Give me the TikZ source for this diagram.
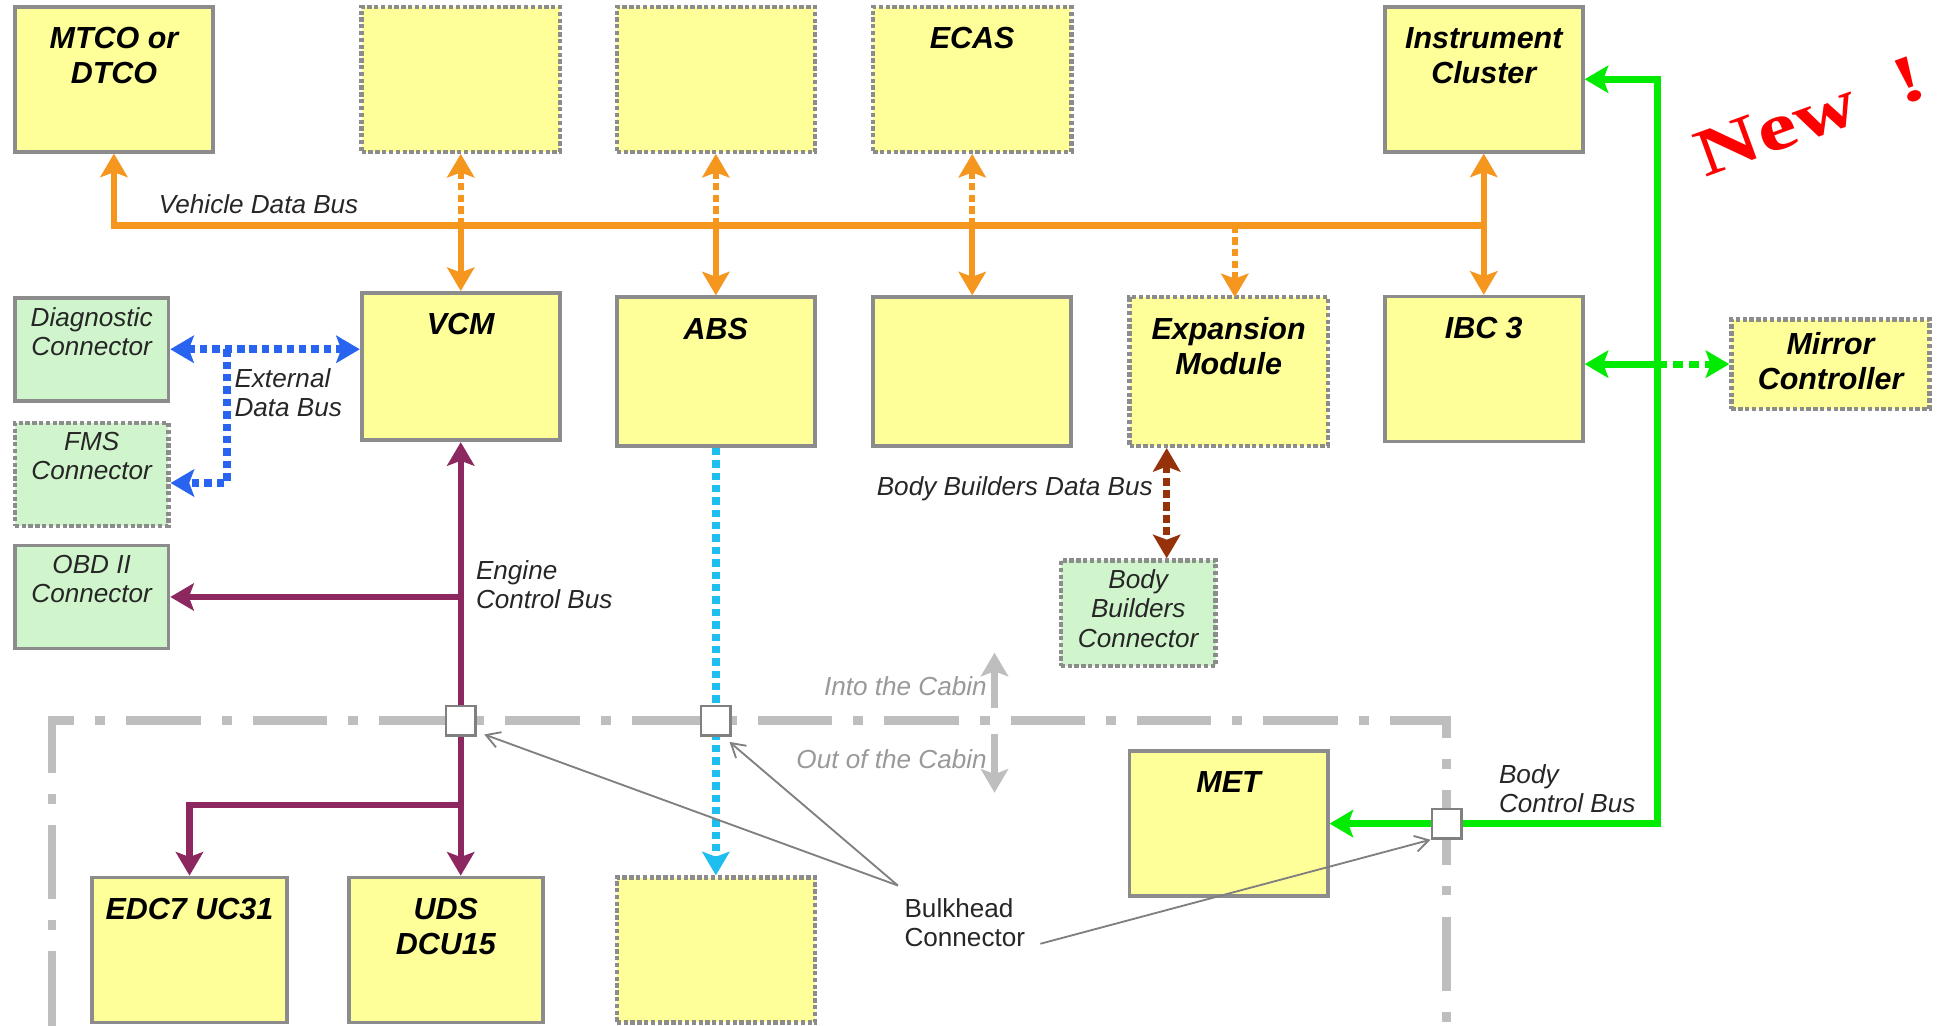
\documentclass[tikz,border=0pt]{standalone}
\usepackage{fontspec}
\setmainfont{Liberation Sans}
\newfontfamily\newsign{Liberation Serif}
\usetikzlibrary{arrows.meta,calc}

\definecolor{ecuyellow}{RGB}{255,255,153}
\definecolor{conngreen}{RGB}{208,245,204}
\definecolor{boxgray}{RGB}{140,140,140}
\definecolor{vdorange}{RGB}{245,150,30}
\definecolor{edblue}{RGB}{40,100,240}
\definecolor{ecpurple}{RGB}{140,40,95}
\definecolor{abscyan}{RGB}{30,190,240}
\definecolor{bbbrown}{RGB}{150,50,10}
\definecolor{bcgreen}{RGB}{0,235,0}
\definecolor{cabingray}{RGB}{190,190,190}

\tikzset{
  ecu/.style={draw=boxgray, line width=0.6mm, fill=ecuyellow,
    minimum width=32mm, minimum height=23.4mm, inner sep=0pt},
  conn/.style={ecu, fill=conngreen, minimum width=24.8mm, minimum height=16.6mm},
  optional/.style={line width=0.7mm, dash pattern=on 0.7mm off 0.4mm},
  ecutext/.style={anchor=north, yshift=-2.4mm, align=center,
    font=\fontsize{14}{16}\selectfont\bfseries\itshape},
  conntext/.style={anchor=north, yshift=-0.6mm, align=center,
    font=\fontsize{12}{13.5}\selectfont\itshape, text=black!85},
  buslabel/.style={inner sep=0pt, align=left,
    font=\fontsize{12}{13.5}\selectfont\itshape, text=black!85},
  vdbus/.style={draw=vdorange, line width=1mm},
  edbus/.style={draw=edblue, line width=1.3mm, dash pattern=on 1.2mm off 0.8mm},
  ecbus/.style={draw=ecpurple, line width=1mm},
  absbus/.style={draw=abscyan, line width=1.2mm, dash pattern=on 1.2mm off 0.8mm},
  bbbus/.style={draw=bbbrown, line width=1.2mm, dash pattern=on 1.3mm off 0.7mm},
  bcbus/.style={draw=bcgreen, line width=1.1mm},
  dashedbus/.style={dash pattern=on 1.2mm off 0.7mm},
  dotbus/.style={dash pattern=on 1.6mm off 1mm},
  bulkhead/.style={draw=gray, fill=white, line width=0.4mm, minimum size=4.8mm, inner sep=0pt},
  callout/.style={draw=gray, line width=0.3mm, -{Straight Barb[length=2.2mm,width=2.6mm]}},
  cabin/.style={draw=cabingray, line width=1.4mm, dash pattern=on 12mm off 3.4mm on 1.6mm off 3.4mm},
  cabinarrow/.style={draw=cabingray, line width=1.1mm}
}

\begin{document}
\begin{tikzpicture}[x=0.2mm, y=-0.2mm, >={Stealth[length=3.8mm,width=4.4mm,inset=0.8mm]}]
\useasboundingbox (0,0) rectangle (1568,828);
% limite cabina
\draw[cabin] (42,828) -- (42,582) -- (1168,582) -- (1168,828);
% centraline in alto
\node[ecu, label={[ecutext]north:{MTCO or\\DTCO}}] (mtco) at (92,64) {};
\node[ecu, optional] (boxa) at (372,64) {};
\node[ecu, optional] (boxb) at (578,64) {};
\node[ecu, optional, label={[ecutext]north:ECAS}] (ecas) at (785,64) {};
\node[ecu, label={[ecutext]north:{Instrument\\Cluster}}] (ic) at (1198,64) {};
% centraline in mezzo
\node[ecu, minimum height=23.8mm, label={[ecutext]north:VCM}] (vcm) at (372,296) {};
\node[ecu, minimum height=24mm, label={[ecutext]north:ABS}] (abs) at (578,300) {};
\node[ecu, minimum height=24mm] (boxc) at (785,300) {};
\node[ecu, optional, minimum height=24mm, label={[ecutext]north:{Expansion\\Module}}] (exp) at (992,300) {};
\node[ecu, label={[ecutext]north:IBC 3}] (ibc) at (1198,298) {};
\node[ecu, optional, minimum height=14.4mm, label={[ecutext, yshift=1.2mm]north:{Mirror\\Controller}}] (mirror) at (1478,294) {};
% connettori
\node[conn, label={[conntext]north:{Diagnostic\\Connector}}] (diag) at (74,282) {};
\node[conn, optional, label={[conntext]north:{FMS\\Connector}}] (fms) at (74,383) {};
\node[conn, label={[conntext]north:{OBD II\\Connector}}] (obd) at (74,482) {};
\node[conn, optional, minimum width=25mm, minimum height=17mm, label={[conntext]north:{Body\\Builders\\Connector}}] (bbc) at (919,495) {};
% centraline in basso
\node[ecu, label={[ecutext]north:MET}] (met) at (992,665) {};
\node[ecu, minimum width=31.6mm, label={[ecutext]north:EDC7 UC31}] (edc) at (153,767) {};
\node[ecu, minimum width=31.4mm, label={[ecutext]north:{UDS\\DCU15}}] (uds) at (360,767) {};
\node[ecu, optional] (boxd) at (578,767) {};
% bus dati veicolo
\coordinate (vdb) at (1198,182);
\draw[vdbus, ->] (vdb) -| (mtco.south);
\draw[vdbus, dashedbus, <-] (boxa.south) -- (boxa.south |- vdb);
\draw[vdbus, ->] (boxa.south |- vdb) -- (vcm.north);
\draw[vdbus, dashedbus, <-] (boxb.south) -- (boxb.south |- vdb);
\draw[vdbus, ->] (boxb.south |- vdb) -- (abs.north);
\draw[vdbus, dashedbus, <-] (ecas.south) -- (ecas.south |- vdb);
\draw[vdbus, ->] (ecas.south |- vdb) -- (boxc.north);
\draw[vdbus, <->] (ic.south) -- (ibc.north);
\coordinate (expin) at (997,240);
\draw[vdbus, dashedbus, ->] (expin |- vdb) -- (expin);
\node[buslabel, anchor=west] (vdblabel) at (128,165) {Vehicle Data Bus};
% bus dati esterno
\coordinate (edsplit) at (183,282);
\coordinate (edcorner) at (183,390);
\draw[edbus, <->] (diag.east) -- (diag.east -| vcm.west);
\draw[edbus, ->] (edsplit) -- (edcorner) -- (edcorner -| fms.east);
\node[buslabel, anchor=north west] (edblabel) at (189,297) {External\\Data Bus};
% bus controllo motore
\coordinate (ecsplit) at (372,650);
\draw[ecbus, <->] (vcm.south) -- (vcm.south |- uds.north);
\draw[ecbus, ->] (vcm.south |- obd.east) -- (obd.east);
\draw[ecbus, ->] (ecsplit) -| (edc.north);
\node[buslabel, anchor=north west] (eclabel) at (384,452) {Engine\\Control Bus};
% linea abs
\draw[absbus, ->] (abs.south) -- (boxd.north);
% bus allestitori
\coordinate (bbx) at (942,420);
\draw[bbbus, <->] (bbx |- exp.south) -- (bbx |- bbc.north);
\node[buslabel, anchor=east] (bbdlabel) at (931,395) {Body Builders Data Bus};
% bus controllo carrozzeria
\coordinate (bcc) at (1338,665);
\draw[bcbus, <->] (met.east) -- (bcc) |- (ic.east);
\draw[bcbus, <-] (ibc.east |- mirror.west) -- (mirror.west -| bcc);
\draw[bcbus, dotbus, ->] (mirror.west -| bcc) -- (mirror.west);
\node[buslabel, anchor=north west] (bclabel) at (1210,617) {Body\\Control Bus};
% connettori paratia
\node[bulkhead] (bh1) at (372,582) {};
\node[bulkhead] (bh2) at (578,582) {};
\node[bulkhead] (bh3) at (1168,665) {};
\node[buslabel, font=\fontsize{12}{13.5}\selectfont, anchor=north west] (bulk) at (730,725) {Bulkhead\\Connector};
\coordinate (bulka) at (725,715);
\coordinate (bulkb) at (840,762);
\draw[callout] (bulka) -- ($(bh1.south east)+(6,-2)$);
\draw[callout] (bulka) -- ($(bh2.south east)+(-2,4)$);
\draw[callout] (bulkb) -- (bh3.south west);
% dentro / fuori cabina
\coordinate (cina) at (803,572);
\coordinate (cinb) at (803,527);
\coordinate (couta) at (803,593);
\coordinate (coutb) at (803,640);
\draw[cabinarrow, ->] (cina) -- (cinb);
\draw[cabinarrow, ->] (couta) -- (coutb);
\node[buslabel, text=black!40, anchor=east] (cabinin) at (797,554) {Into the Cabin};
\node[buslabel, text=black!40, anchor=east] (cabinout) at (797,613) {Out of the Cabin};
% novita
\node[rotate=20, xscale=1.3, text=red, font=\newsign\bfseries\fontsize{31}{31}\selectfont] (new) at (1462,94) {New\hspace{0.5em}!};
\end{tikzpicture}
\end{document}
